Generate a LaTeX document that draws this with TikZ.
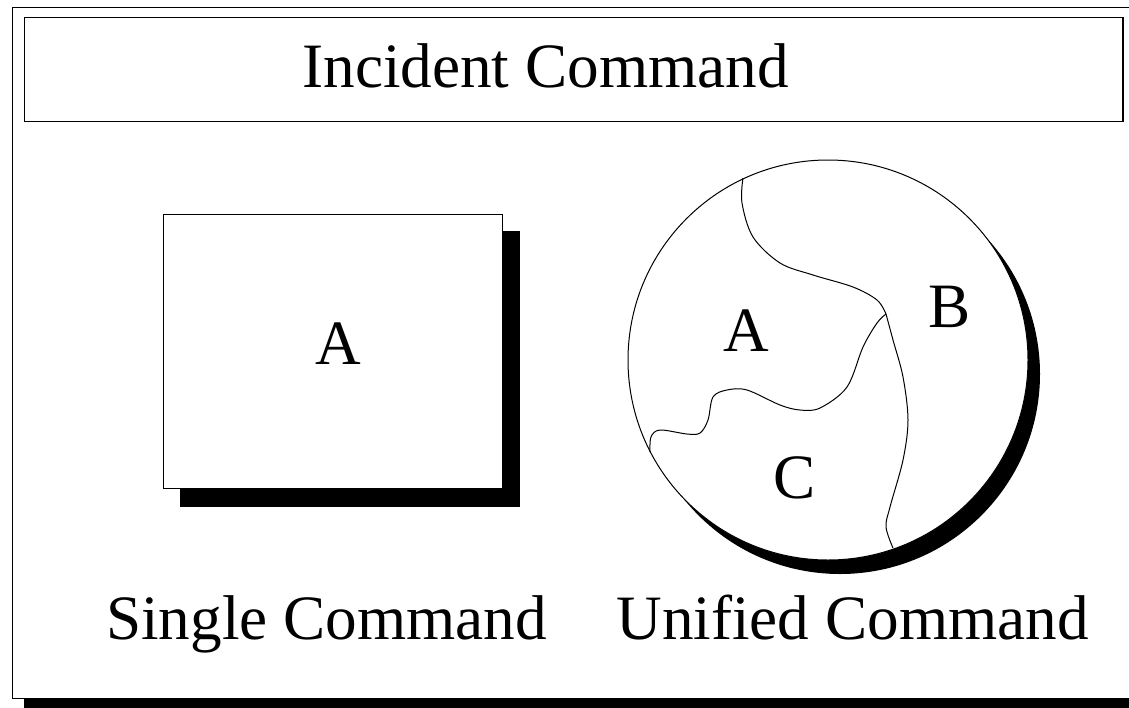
\documentclass[tikz,border=0pt]{standalone}
\usepackage{fontspec}
\setmainfont{Liberation Serif}
\begin{document}
\begin{tikzpicture}[x=0.5pt,y=-0.5pt,line width=0.5pt,
  lbl/.style={anchor=base,inner sep=0pt,font=\fontsize{31.6}{36}\selectfont},
  shade/.style={fill=black,draw=none}]
\useasboundingbox (0,0) rectangle (1129,707);
\begin{scope}
\clip (0,0) rectangle (1129,707);
% outer frame with shadow
\fill[black] (24,19) rectangle (1150,710);
\draw[fill=white] (12,7) rectangle (1140,698);
\end{scope}
% title box
\draw (24.5,17) rectangle (1123,121);
\draw[line width=1pt] (1123,17) -- (1123,121);
\node[lbl] (title) at (545.5,87) {Incident Command};
% single command square
\fill[black] (180,231) rectangle (520,507);
\draw[fill=white] (163,214) rectangle (502,488);
\node[lbl] (sa) at (338,364) {A};
% unified command circle
\fill[black] (840,374) circle[radius=100pt];
\draw[fill=white] (828,360) circle[radius=100pt];
\coordinate (J) at (886,314);
\draw plot[smooth,tension=0.55] coordinates {(743,178) (742,203) (753,237) (780,263) (813,275) (853,287) (877,300) (886,314)};
\draw plot[smooth,tension=0.55] coordinates {(886,314) (893,340) (903,377) (908,420) (903,460) (890,507) (886,527) (893,548)};
\draw plot[smooth,tension=0.55] coordinates {(886,314) (877,323) (863,347) (847,387) (820,408) (800,410) (780,405) (747,390) (727,390) (713,397) (708,420) (700,433) (687,434) (660,430) (651,437) (650,452)};
\node[lbl] (ca) at (746,351) {A};
\node[lbl] (cb) at (950,327) {B};
\node[lbl] (cc) at (795,498) {C};
% captions
\node[lbl] (single) at (326.5,639) {Single Command};
\node[lbl] (unified) at (852.5,639) {Unified Command};
\end{tikzpicture}
\end{document}
